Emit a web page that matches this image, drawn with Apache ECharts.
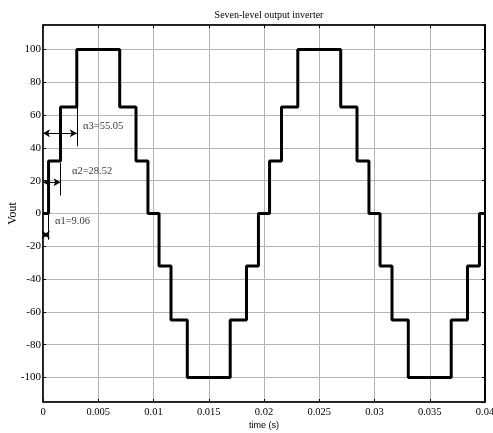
<!DOCTYPE html>
<html>
<head>
<meta charset="utf-8">
<script src="https://cdn.jsdelivr.net/npm/echarts@6/dist/echarts.min.js"></script>
<style>html,body{margin:0;padding:0;background:#fff}#c{width:493px;height:433px}</style>
</head>
<body>
<div id="c"></div>
<script>
// Switching instants (s) and output levels of the staircase waveform
const stepTimes = [0, 0.000503, 0.001584, 0.003058, 0.006942, 0.008416, 0.009497, 0.010503, 0.011584, 0.013058, 0.016942, 0.018416, 0.019497, 0.020503, 0.021584, 0.023058, 0.026942, 0.028416, 0.029497, 0.030503, 0.031584, 0.033058, 0.036942, 0.038416, 0.039497, 0.04];
const stepLevels = [0, 32, 65, 100, 65, 32, 0, -32, -65, -100, -65, -32, 0, 32, 65, 100, 65, 32, 0, -32, -65, -100, -65, -32, 0, 0];
// Annotations
const annoText = ['\u03b11=9.06', '\u03b12=28.52', '\u03b13=55.05'];
const annoTextPos = [[0.00108, -5], [0.00262, 26], [0.00362, 53]];
const annoAngleTimes = [0.000503, 0.001584, 0.003058];
const annoArrowLevel = [-13, 19, 49];
const annoVertFrom = [0, 31, 65];
const annoVertTo = [-16, 11, 41];
const xTicks = ['0', '0.005', '0.01', '0.015', '0.02', '0.025', '0.03', '0.035', '0.04'];

const wave = stepTimes.map((t, i) => [t, stepLevels[i]]);
const markLines = [];
for (let i = 0; i < annoAngleTimes.length; i++) {
  markLines.push([{coord: [0, annoArrowLevel[i]], symbol: 'arrow'}, {coord: [annoAngleTimes[i], annoArrowLevel[i]], symbol: 'arrow'}]);
  markLines.push([{coord: [annoAngleTimes[i], annoVertFrom[i]], symbol: 'none'}, {coord: [annoAngleTimes[i], annoVertTo[i]], symbol: 'none'}]);
}
const serif = 'Liberation Serif';
const chart = echarts.init(document.getElementById('c'), null, {renderer: 'canvas'});
chart.setOption({
  animation: false,
  backgroundColor: '#fff',
  title: {
    text: 'Seven-level output inverter',
    left: 264, top: 5, textAlign: 'center',
    textStyle: {fontFamily: serif, fontSize: 10, fontWeight: 'normal', color: '#000'}
  },
  grid: {left: 43, right: 8, top: 25, bottom: 31, show: true, borderColor: '#000', borderWidth: 1,
    containLabel: false, outerBoundsMode: 'none'},
  xAxis: [{
    type: 'value', min: 0, max: 0.04, interval: 0.005,
    name: 'time (s)', nameLocation: 'middle', nameGap: 19, nameMoveOverlap: false,
    nameTextStyle: {fontFamily: 'Liberation Sans', fontSize: 9, color: '#000', verticalAlign: 'top'},
    axisLine: {show: true, onZero: false, lineStyle: {color: '#000', width: 1.5}},
    axisTick: {show: true, inside: true, length: 3, lineStyle: {color: '#000'}},
    axisLabel: {fontFamily: serif, fontSize: 10.5, color: '#000', margin: 5,
      formatter: (v, i) => xTicks[Math.round(v / 0.005)]},
    splitLine: {show: true, lineStyle: {color: '#b4b4b4', width: 1}}
  }, {
    type: 'value', min: 0, max: 0.04, interval: 0.005, position: 'top',
    axisLine: {show: true, onZero: false, lineStyle: {color: '#000', width: 1.5}},
    axisTick: {show: true, inside: true, length: 3, lineStyle: {color: '#000'}},
    axisLabel: {show: false}, splitLine: {show: false}
  }],
  yAxis: [{
    type: 'value', min: -115, max: 115, splitNumber: 10,
    name: 'Vout', nameLocation: 'middle', nameGap: 24, nameRotate: 90, nameMoveOverlap: false,
    nameTextStyle: {fontFamily: serif, fontSize: 12, color: '#000'},
    axisLine: {show: true, onZero: false, lineStyle: {color: '#000', width: 1.5}},
    axisTick: {show: true, inside: true, length: 3, lineStyle: {color: '#000'}},
    axisLabel: {fontFamily: serif, fontSize: 11, color: '#000', margin: 2, showMinLabel: false, showMaxLabel: false,
      formatter: v => (Math.abs(v % 20) < 1e-9 ? String(v) : '')},
    splitLine: {show: true, lineStyle: {color: '#b4b4b4', width: 1}}
  }, {
    type: 'value', min: -115, max: 115, splitNumber: 10, position: 'right',
    axisLine: {show: true, onZero: false, lineStyle: {color: '#000', width: 2}},
    axisTick: {show: true, inside: true, length: 3, lineStyle: {color: '#000'}},
    axisLabel: {show: false}, splitLine: {show: false}
  }],
  series: [{
    type: 'line', data: wave, step: 'end', showSymbol: false, symbol: 'none',
    lineStyle: {color: '#000', width: 3},
    markLine: {
      silent: true, symbolSize: [6, 7],
      lineStyle: {color: '#000', width: 1, type: 'solid'},
      label: {show: false},
      data: markLines
    }
  }, {
    type: 'scatter', symbolSize: 0,
    data: annoTextPos.map((p, i) => [p[0], p[1], annoText[i]]),
    label: {show: true, position: 'right', distance: 0, formatter: p => p.data[2],
      fontFamily: serif, fontSize: 10.5, color: '#000'}
  }]
});
</script>
</body>
</html>
